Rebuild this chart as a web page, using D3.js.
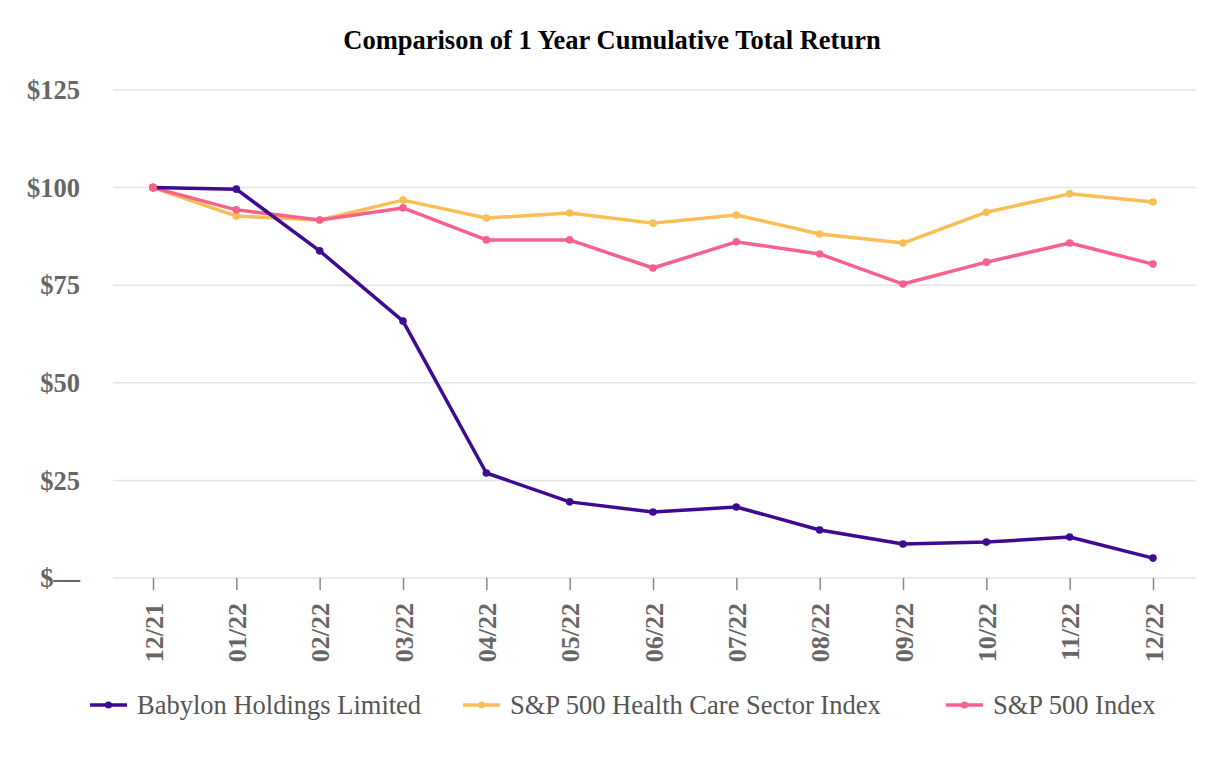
<!DOCTYPE html>
<html><head><meta charset="utf-8">
<script src="https://cdn.jsdelivr.net/npm/d3@7"></script>
<style>body{margin:0;background:#fff}</style>
</head><body>
<svg id="c" width="1226" height="760"></svg>
<script>
const categories = ["12/21","01/22","02/22","03/22","04/22","05/22","06/22","07/22","08/22","09/22","10/22","11/22","12/22"];
const babylon = [100, 99.6, 83.8, 65.8, 26.9, 19.5, 16.9, 18.2, 12.3, 8.7, 9.2, 10.5, 5.1];
const healthCare = [100, 92.7, 91.7, 96.8, 92.2, 93.5, 90.9, 93.0, 88.1, 85.8, 93.7, 98.4, 96.3];
const sp500 = [100, 94.3, 91.7, 94.8, 86.6, 86.6, 79.4, 86.1, 83.0, 75.3, 80.9, 85.8, 80.4];
const yTicks = [0, 25, 50, 75, 100, 125];
const seriesNames = ["Babylon Holdings Limited", "S&P 500 Health Care Sector Index", "S&P 500 Index"];
const colors = ["#3d0a91", "#f9be54", "#f7618a"];

const svg = d3.select("#c");
const font = "'Liberation Serif','Times New Roman',serif";
const x = d3.scalePoint().domain(categories).range([153, 1153]);
const y = d3.scaleLinear().domain([0, 125]).range([578, 90]);
const left = 113, right = 1196;

svg.append("text").attr("x", 612).attr("y", 49).attr("text-anchor", "middle")
  .attr("font-family", font).attr("font-weight", "bold").attr("font-size", 26.5).attr("fill", "#000")
  .text("Comparison of 1 Year Cumulative Total Return");

// gridlines
svg.append("g").selectAll("line").data(yTicks).join("line")
  .attr("x1", left).attr("x2", right).attr("y1", d => y(d)).attr("y2", d => y(d))
  .attr("stroke", "#e5e5e5").attr("stroke-width", 1.5);

// y labels
svg.append("g").selectAll("text").data(yTicks).join("text")
  .attr("x", 80).attr("y", d => y(d)).attr("dy", "0.35em").attr("text-anchor", "end")
  .attr("font-family", font).attr("font-weight", "bold").attr("font-size", 26.5).attr("fill", "#666")
  .text(d => d === 0 ? "$\u2014" : "$" + d);

// x axis
const xa = svg.append("g").attr("transform", `translate(0,${y(0)})`)
  .call(d3.axisBottom(x).tickSize(12).tickPadding(14));
xa.select(".domain").remove();
xa.selectAll(".tick line").attr("stroke", "#888").attr("stroke-width", 1.5);
xa.selectAll(".tick text")
  .attr("font-family", font).attr("font-weight", "bold").attr("font-size", 26).attr("fill", "#666")
  .attr("transform", "rotate(-90)").attr("text-anchor", "end").attr("x", -25).attr("y", 0).attr("dy", "0.35em");

const all = [babylon, healthCare, sp500];
const line = d3.line().x((d, i) => x(categories[i])).y(d => y(d));
const order = [1, 2, 0];
order.forEach(k => {
  const g = svg.append("g");
  g.append("path").attr("d", line(all[k])).attr("fill", "none")
    .attr("stroke", colors[k]).attr("stroke-width", 3.5).attr("stroke-linejoin", "round");
  g.selectAll("circle").data(all[k]).join("circle")
    .attr("cx", (d, i) => x(categories[i])).attr("cy", d => y(d)).attr("r", 3.8).attr("fill", colors[k]);
});
svg.append("circle").attr("cx", x(categories[0])).attr("cy", y(sp500[0])).attr("r", 4).attr("fill", colors[2]);

// legend
const legX = [90, 463, 946];
seriesNames.forEach((n, k) => {
  const g = svg.append("g").attr("transform", `translate(${legX[k]},705)`);
  g.append("line").attr("x1", 0).attr("x2", 37).attr("stroke", colors[k]).attr("stroke-width", 3.5);
  g.append("circle").attr("cx", 18.5).attr("r", 3.5).attr("fill", colors[k]);
  g.append("text").attr("x", 47).attr("dy", "0.35em")
    .attr("font-family", font).attr("font-size", 26.5).attr("fill", "#555").text(n);
});
</script>
</body></html>
